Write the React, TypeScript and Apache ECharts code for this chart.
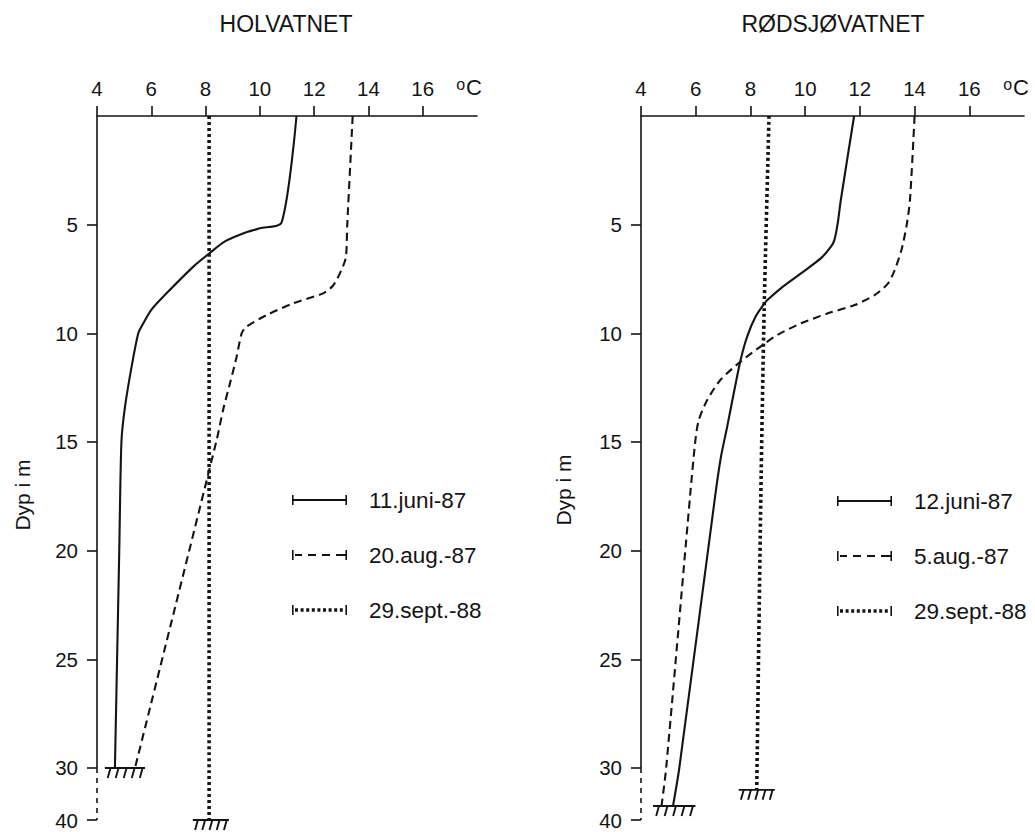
import React, { useEffect, useRef } from 'react';
import * as echarts from 'echarts';

// Temperature profiles as [depth (m), temperature (°C)]
const holvatnetJuni87: [number, number][] = [
  [0, 11.35], [4.9, 10.8], [5.17, 10.0], [5.35, 9.5], [5.78, 8.7], [6.31, 8.15],
  [6.93, 7.55], [8.16, 6.56], [8.92, 6.0], [9.69, 5.64], [10.0, 5.52], [11.5, 5.28],
  [13.4, 5.03], [15, 4.9], [20, 4.82], [25, 4.74], [30, 4.66],
];
const holvatnetAug87: [number, number][] = [
  [0, 13.42], [5, 13.22], [6.5, 13.17], [7.1, 13.0], [7.8, 12.7], [8.16, 12.33],
  [8.62, 11.23], [9.16, 10.25], [9.7, 9.5], [10.0, 9.33], [11.1, 9.14], [12.3, 8.9],
  [13.5, 8.65], [14.9, 8.41], [30, 5.4],
];
const holvatnetSept88: [number, number][] = [[0, 8.13], [40, 8.13]];

const rodsjovatnetJuni87: [number, number][] = [
  [0, 11.79], [3.9, 11.3], [4.94, 11.19], [5.7, 11.07], [6.0, 10.95], [6.54, 10.58],
  [7.24, 9.85], [7.93, 9.11], [8.47, 8.62], [8.65, 8.5], [9.23, 8.19], [10.15, 7.88],
  [11.23, 7.64], [12.76, 7.39], [14.3, 7.15], [15.7, 6.92], [17.4, 6.72], [30, 5.4],
  [37.3, 5.17],
];
const rodsjovatnetAug87: [number, number][] = [
  [0, 14.0], [3.9, 13.83], [5.1, 13.7], [6.17, 13.52], [7.1, 13.27], [7.7, 13.03],
  [8.24, 12.54], [8.7, 11.81], [9.08, 10.83], [9.54, 9.85], [10.07, 8.99], [10.6, 8.38],
  [11.3, 7.64], [12.15, 6.9], [13.07, 6.42], [14.0, 6.11], [14.9, 5.99], [17.4, 5.8],
  [30, 4.92], [37.3, 4.75],
];
const rodsjovatnetSept88: [number, number][] = [[0, 8.68], [9, 8.5], [17.5, 8.38], [34.2, 8.23]];

// Lake bottom marks: [from °C, to °C, depth m]
const holvatnetBottom: [number, number, number][] = [[4.29, 5.77, 30], [7.53, 8.86, 40]];
const rodsjovatnetBottom: [number, number, number][] = [[4.44, 5.99, 37.3], [7.57, 8.89, 34.2]];

const tempTicks = [4, 6, 8, 10, 12, 14, 16];
const depthTicks = [5, 10, 15, 20, 25, 30, 40];

const lakeNames = ['HOLVATNET', 'RØDSJØVATNET'];
const holvatnetLegend = ['11.juni-87', '20.aug.-87', '29.sept.-88'];
const rodsjovatnetLegend = ['12.juni-87', '5.aug.-87', '29.sept.-88'];

const INK = '#141414';
const FONT = '"Liberation Sans", Arial, Helvetica, sans-serif';

// Depth axis is broken below 30 m: the deeper part is compressed.
const BREAK = 30;
const DEEP_SCALE = 0.2393;
const toAxis = (d: number) => (d <= BREAK ? d : BREAK + (d - BREAK) * DEEP_SCALE);
const fromAxis = (v: number) => (v <= BREAK + 1e-6 ? v : BREAK + (v - BREAK) / DEEP_SCALE);
const DEPTH_MAX = toAxis(40);

type Kind = 'solid' | 'dashed' | 'dotted';
const lineStyles: Record<Kind, any> = {
  solid: { type: 'solid', width: 2.1 },
  dashed: { type: [8, 5], width: 2.1 },
  dotted: { type: [3, 3], width: 3.6 },
};

// Legend keys with end caps, drawn in a 55 x 10 box
const cap = (x: number) => `M${x},0h1.6v10h-1.6z`;
const bar = (x0: number, x1: number, h = 1.9) => `M${x0},${5 - h / 2}H${x1}v${h}H${x0}z`;
const SOLID_ICON = 'path://' + cap(0) + bar(1.6, 53.4) + cap(53.4);
const DASHED_ICON = 'path://' + cap(0) + bar(3, 10) + bar(16, 24) + bar(30, 38) + bar(44, 53.4) + cap(53.4);
const DOTTED_ICON =
  'path://' + cap(0) +
  [3, 8.6, 14.2, 19.8, 25.4, 31, 36.6, 42.2, 47.8].map((x) => bar(x, x + 3, 3.4)).join('') +
  cap(53.4);
const icons: Record<Kind, string> = { solid: SOLID_ICON, dashed: DASHED_ICON, dotted: DOTTED_ICON };
const kinds: Kind[] = ['solid', 'dashed', 'dotted'];

function profile(name: string, data: [number, number][], grid: number, kind: Kind) {
  return {
    type: 'line',
    name,
    xAxisIndex: grid,
    yAxisIndex: grid,
    data: data.map(([d, t]) => [t, toAxis(d)]),
    showSymbol: false,
    symbol: 'none',
    smooth: 0.25,
    clip: false,
    color: INK,
    itemStyle: { color: INK },
    lineStyle: { color: INK, ...lineStyles[kind] },
    z: 3,
  };
}

function depthAxisLine(grid: number) {
  const base = {
    type: 'line',
    xAxisIndex: grid,
    yAxisIndex: grid,
    showSymbol: false,
    symbol: 'none',
    clip: false,
    silent: true,
    z: 2,
  };
  return [
    { ...base, name: `depth-axis-${grid}`, data: [[4, 0], [4, toAxis(30)]], lineStyle: { color: INK, width: 1.6 } },
    {
      ...base,
      name: `depth-axis-break-${grid}`,
      data: [[4, toAxis(30)], [4, toAxis(40)]],
      lineStyle: { color: INK, width: 1.6, type: [5, 5] },
    },
  ];
}

const bottomMark = (params: any, api: any) => {
  const y = api.value(2);
  const a = api.coord([api.value(0), y]);
  const b = api.coord([api.value(1), y]);
  const n = 5;
  const step = (b[0] - a[0]) / n;
  const stroke = { stroke: INK, lineWidth: 1.9 };
  const children: any[] = [
    { type: 'line', shape: { x1: a[0], y1: a[1], x2: b[0], y2: b[1] }, style: stroke },
  ];
  for (let i = 0; i < n; i++) {
    const x = a[0] + step * (i + 0.7);
    children.push({
      type: 'line',
      shape: { x1: x, y1: a[1], x2: x - 2.8, y2: a[1] + 10 },
      style: stroke,
    });
  }
  return { type: 'group', children };
};

function bottomSeries(data: [number, number, number][], grid: number) {
  return {
    type: 'custom',
    name: `bottom-${grid}`,
    xAxisIndex: grid,
    yAxisIndex: grid,
    renderItem: bottomMark,
    encode: { x: [0, 1], y: 2 },
    data: data.map(([t0, t1, d]) => [t0, t1, toAxis(d)]),
    clip: false,
    silent: true,
    z: 4,
  };
}

const tickStyle = { color: INK, width: 1.6 };

function xAxis(grid: number) {
  return {
    type: 'value',
    gridIndex: grid,
    position: 'top',
    min: 4,
    max: 18,
    axisLine: { show: true, lineStyle: tickStyle },
    axisTick: { show: true, inside: false, length: 10, customValues: tempTicks, lineStyle: tickStyle },
    axisLabel: { customValues: tempTicks, margin: 17, fontSize: 20.5, color: INK, fontFamily: FONT },
    splitLine: { show: false },
    name: '{o|o}{c|C}',
    nameLocation: 'end',
    nameGap: 5,
    nameTextStyle: {
      align: 'right',
      verticalAlign: 'bottom',
      padding: [0, 0, 18, 0],
      rich: {
        o: { fontSize: 16, color: INK, fontFamily: FONT, verticalAlign: 'top', lineHeight: 22, padding: [0, 1, 9, 0] },
        c: { fontSize: 22, color: INK, fontFamily: FONT, lineHeight: 22 },
      },
    },
  };
}

function yAxis(grid: number) {
  const ticks = depthTicks.map(toAxis);
  return {
    type: 'value',
    gridIndex: grid,
    inverse: true,
    min: 0,
    max: DEPTH_MAX,
    axisLine: { show: false },
    axisTick: { show: true, inside: false, length: 10, customValues: ticks, lineStyle: tickStyle },
    axisLabel: {
      customValues: ticks,
      margin: 19,
      fontSize: 20.5,
      color: INK,
      fontFamily: FONT,
      formatter: (v: number) => String(Math.round(fromAxis(v))),
    },
    splitLine: { show: false },
  };
}

function legend(left: number, top: number, names: string[]) {
  return {
    left,
    top,
    orient: 'vertical',
    itemWidth: 55,
    itemHeight: 10,
    itemGap: 31,
    selectedMode: false,
    itemStyle: { borderWidth: 0 },
    textStyle: { fontSize: 22.5, color: INK, fontFamily: FONT, lineHeight: 24, padding: [0, 0, 0, 17] },
    data: names.map((name, i) => ({ name, icon: icons[kinds[i]] })),
  };
}

function text(x: number, y: number, content: string, size: number, rotation = 0) {
  return {
    type: 'text',
    x,
    y,
    rotation,
    style: {
      text: content,
      fontSize: size,
      fontFamily: FONT,
      fill: INK,
      align: 'center',
      verticalAlign: 'middle',
      textAlign: 'center',
      textVerticalAlign: 'middle',
    },
  };
}

export default function App() {
  const ref = useRef<HTMLDivElement>(null);

  useEffect(() => {
    if (!ref.current) return;
    const chart = echarts.init(ref.current, null, { renderer: 'svg' });
    const option = {
      animation: false,
      backgroundColor: '#ffffff',
      textStyle: { fontFamily: FONT, color: INK },
      grid: [
        { left: 97, top: 116, width: 380, height: 704 },
        { left: 641, top: 116, width: 383, height: 704 },
      ],
      xAxis: [xAxis(0), xAxis(1)],
      yAxis: [yAxis(0), yAxis(1)],
      legend: [legend(287, 483, holvatnetLegend), legend(832, 484, rodsjovatnetLegend)],
      graphic: [
        text(286, 24, lakeNames[0], 23),
        text(833, 24, lakeNames[1], 23),
        text(22, 495, 'Dyp i m', 21, Math.PI / 2),
        text(563, 490, 'Dyp i m', 21, Math.PI / 2),
      ],
      series: [
        ...depthAxisLine(0),
        ...depthAxisLine(1),
        profile(holvatnetLegend[0], holvatnetJuni87, 0, 'solid'),
        profile(holvatnetLegend[1], holvatnetAug87, 0, 'dashed'),
        profile(holvatnetLegend[2], holvatnetSept88, 0, 'dotted'),
        profile(rodsjovatnetLegend[0], rodsjovatnetJuni87, 1, 'solid'),
        profile(rodsjovatnetLegend[1], rodsjovatnetAug87, 1, 'dashed'),
        profile(rodsjovatnetLegend[2], rodsjovatnetSept88, 1, 'dotted'),
        bottomSeries(holvatnetBottom, 0),
        bottomSeries(rodsjovatnetBottom, 1),
      ],
    };
    chart.setOption(option as any);
    return () => chart.dispose();
  }, []);

  return (
    <div
      ref={ref}
      style={{ position: 'fixed', left: 0, top: 0, width: 1035, height: 832, background: '#ffffff' }}
    />
  );
}
